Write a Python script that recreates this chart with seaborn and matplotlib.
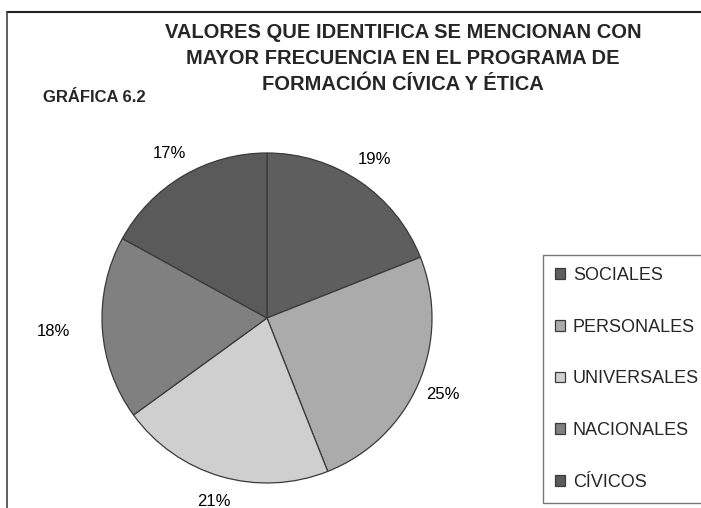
import matplotlib
matplotlib.use("Agg")
import matplotlib.pyplot as plt
import seaborn as sns
from matplotlib.lines import Line2D

# Data
categories = ["SOCIALES", "PERSONALES", "UNIVERSALES", "NACIONALES", "CÍVICOS"]
percentages = [19, 25, 21, 18, 17]
slice_colors = ["#5e5e5e", "#ababab", "#cfcfcf", "#808080", "#5a5a5a"]

title_lines = ["VALORES QUE IDENTIFICA SE MENCIONAN CON",
               "MAYOR FRECUENCIA EN EL PROGRAMA DE",
               "FORMACIÓN CÍVICA Y ÉTICA"]
figure_label = "GRÁFICA 6.2"

# Theme
sns.set_style("white")
plt.rcParams["font.family"] = ["Liberation Sans", "DejaVu Sans"]

fig = plt.figure(figsize=(7.01, 5.08), dpi=100)

# Pie axes: centre about (267, 318) px, radius about 165 px
W, H = 701, 508
cx, cy, r = 267, 318, 165
ax = fig.add_axes([(cx - r) / W, (H - cy - r) / H, 2 * r / W, 2 * r / H])

palette = sns.color_palette(slice_colors)
wedges, texts, autotexts = ax.pie(
    percentages,
    colors=palette,
    startangle=90,
    counterclock=False,
    autopct="%1.0f%%",
    pctdistance=1.16,
    wedgeprops={"edgecolor": "#3a3a3a", "linewidth": 0.9},
    textprops={"fontsize": 12, "color": "black"},
)
ax.set_xlim(-1, 1)
ax.set_ylim(-1, 1)
ax.set_aspect("equal")

# the 18% label sits further out on the left
x, y = autotexts[3].get_position()
autotexts[3].set_position((x * 1.12, y * 1.12))

# Title (three centred lines) and figure label
for i, line in enumerate(title_lines):
    fig.text(403 / W, 1 - (33 + 26 * i) / H, line, ha="center", va="center",
             fontsize=14.5, fontweight="bold")
fig.text(43 / W, 1 - 97 / H, figure_label, ha="left", va="center",
         fontsize=12, fontweight="bold")

# Legend box on the right
leg = fig.legend(
    wedges, categories,
    loc="upper left",
    bbox_to_anchor=(543 / W, 1 - 255 / H),
    bbox_transform=fig.transFigure,
    fontsize=13,
    frameon=True,
    fancybox=False,
    edgecolor="#555555",
    handlelength=0.55,
    handleheight=0.55,
    handletextpad=0.45,
    labelspacing=1.93,
    borderpad=0.65,
    borderaxespad=0,
)
leg.get_frame().set_linewidth(1.0)

# Outer frame of the scanned chart (top and left edges)
fig.add_artist(Line2D([7 / W, 1], [1 - 12 / H, 1 - 12 / H], color="#222222", lw=1.5,
                      transform=fig.transFigure))
fig.add_artist(Line2D([7 / W, 7 / W], [0, 1 - 12 / H], color="#444444", lw=1.2,
                      transform=fig.transFigure))

fig.savefig("out.png", dpi=100)
